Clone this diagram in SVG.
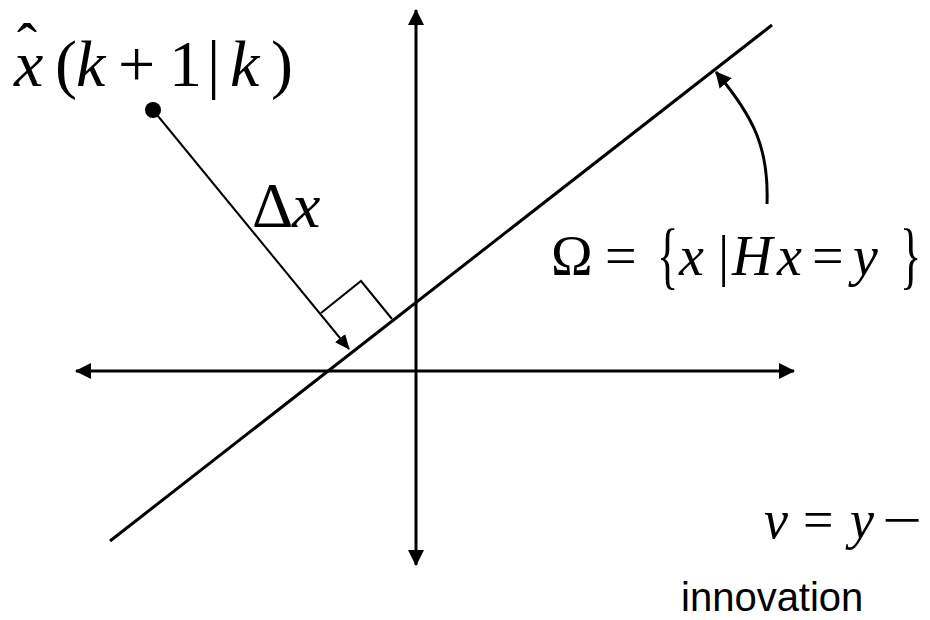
<svg xmlns="http://www.w3.org/2000/svg" width="930" height="620" viewBox="0 0 930 620">
<style>
.ln{stroke:#000;fill:none;stroke-linecap:butt}
.ax{stroke-width:3}
.th{stroke-width:2}
.m{font-family:"Liberation Serif","Times New Roman",serif;fill:#000}
.i{font-style:italic}
.s{font-family:"Liberation Sans",Arial,sans-serif;fill:#000}
</style>
<defs>
<marker id="ah" markerWidth="16" markerHeight="16" viewBox="0 0 16 16" refX="15" refY="8" orient="auto" markerUnits="userSpaceOnUse">
<path d="M0,0 L16,8 L0,16 Z" fill="#000"/>
</marker>
<marker id="ahs" markerWidth="15" markerHeight="13" viewBox="0 0 15 13" refX="14" refY="6.5" orient="auto" markerUnits="userSpaceOnUse">
<path d="M0,0 L15,6.5 L0,13 Z" fill="#000"/>
</marker>
</defs>
<g id="connectors">
<line class="ln ax" x1="416" y1="300" x2="416" y2="10" marker-end="url(#ah)"/>
<line class="ln ax" x1="416" y1="300" x2="416" y2="565" marker-end="url(#ah)"/>
<line class="ln ax" x1="430" y1="371" x2="76" y2="371" marker-end="url(#ah)"/>
<line class="ln ax" x1="430" y1="371" x2="794" y2="371" marker-end="url(#ah)"/>
<line class="ln ax" x1="110" y1="541" x2="772" y2="25"/>
<line class="ln th" x1="153" y1="110" x2="349" y2="349" marker-end="url(#ahs)"/>
<polyline class="ln th" points="321,313 361,281 392,319"/>
<path class="ln ax" d="M767,204 C769,150 755,118 716,72" marker-end="url(#ah)"/>
</g>
<g id="point">
<circle cx="153" cy="110" r="8" fill="#000"/>
</g>
<g id="label-xhat">
<text class="m" font-size="66" y="86"><tspan class="i" x="14">x</tspan><tspan x="55">(</tspan><tspan class="i" x="76">k</tspan><tspan x="118">+</tspan><tspan x="169">1</tspan><tspan x="207">|</tspan><tspan class="i" x="230">k</tspan><tspan x="271">)</tspan></text>
<text class="m" font-size="60" x="17" y="64">ˆ</text>
</g>
<g id="label-dx">
<text class="m" font-size="64" y="227"><tspan x="252">Δ</tspan><tspan class="i" x="292">x</tspan></text>
</g>
<g id="label-omega">
<text class="m" font-size="56" y="275"><tspan x="551">Ω</tspan><tspan x="605">=</tspan><tspan class="i" x="679">x</tspan><tspan x="718">|</tspan><tspan class="i" x="732">H</tspan><tspan class="i" x="777">x</tspan><tspan x="812">=</tspan><tspan class="i" x="853">y</tspan></text>
<text class="m" font-size="74" transform="translate(657,280) scale(0.6,1)">{</text>
<text class="m" font-size="74" transform="translate(900,280) scale(0.6,1)">}</text>
</g>
<g id="label-nu">
<text class="m" font-size="54" y="538"><tspan class="i" x="764">ν</tspan><tspan x="803">=</tspan><tspan class="i" x="850">y</tspan></text>
<text class="m" font-size="54" x="882" y="538" textLength="40" lengthAdjust="spacingAndGlyphs">−</text>
</g>
<g id="label-innovation">
<text class="s" font-size="40" x="681" y="611">innovation</text>
</g>
</svg>
